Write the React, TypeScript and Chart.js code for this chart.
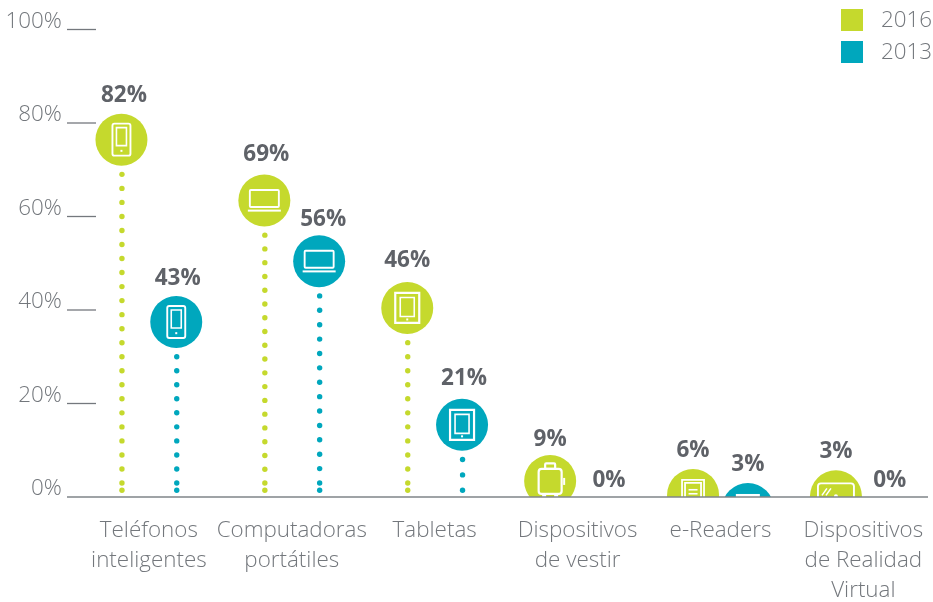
import React, { useEffect, useRef } from "react";
import { Chart, registerables } from "chart.js";

Chart.register(...registerables);

const categories: string[][] = [
  ["Teléfonos", "inteligentes"],
  ["Computadoras", "portátiles"],
  ["Tabletas"],
  ["Dispositivos", "de vestir"],
  ["e-Readers"],
  ["Dispositivos", "de Realidad", "Virtual"],
];
// Heights as drawn in the picture (the last 2016 marker sits above its printed 3%)
const values2016 = [82, 69, 46, 9, 6, 5.7];
const values2013 = [43, 56, 21, 0, 3, 0];
// Percentages as printed
const printed2016 = ["82%", "69%", "46%", "9%", "6%", "3%"];
const printed2013 = ["43%", "56%", "21%", "0%", "3%", "0%"];
const icons = ["phone", "laptop", "tablet", "case", "reader", "vr"];
const GREEN = "#c5d92d";
const BLUE = "#00a7bd";
const GREY = "#73777c";
const DARK = "#5f6268";
const FONT = "'Open Sans'";
// small per-label nudges of the value labels, as in the reference
const labelGaps = [
  [18, 20, 21, 15, 18, 19],
  [17, 16, 20, 16, 18, 16],
];
const labelShifts = [
  [2.5, 2, 0, 0, 0, 0],
  [1.5, 4, 2, 4, 0, -1],
];

function rr(ctx: CanvasRenderingContext2D, x: number, y: number, w: number, h: number, r = 1.5) {
  ctx.beginPath();
  ctx.roundRect(x, y, w, h, r);
  ctx.stroke();
}

function drawIcon(ctx: CanvasRenderingContext2D, kind: string, cx: number, cy: number, series: number) {
  ctx.save();
  ctx.translate(cx, cy);
  ctx.strokeStyle = "#fff";
  ctx.fillStyle = "#fff";
  ctx.lineWidth = 1.9;
  if (kind === "phone") {
    rr(ctx, -9, -16, 18, 32, 2);
    ctx.lineWidth = 1.6;
    rr(ctx, -5, -12, 10, 18, 0);
    ctx.fillRect(-1, 10.2, 2, 2);
  } else if (kind === "laptop") {
    rr(ctx, -14.5, -10.5, 29, 17, 1);
    ctx.fillRect(-16.5, 9.2, 33, 2);
  } else if (kind === "tablet") {
    ctx.lineWidth = 2.2;
    rr(ctx, -12, -15, 24, 30, 0);
    ctx.lineWidth = 1.6;
    rr(ctx, -7, -10.5, 14, 19, 0);
    ctx.fillRect(-1, 10.5, 2, 2);
  } else if (kind === "case") {
    ctx.lineWidth = 2.2;
    rr(ctx, -11.5, -12, 23, 25, 3);
    rr(ctx, -5, -17.5, 10, 5.5, 1);
    ctx.fillRect(13, -3, 2, 7);
    ctx.fillRect(-8, 13.5, 4, 3);
    ctx.fillRect(4, 13.5, 4, 3);
  } else if (kind === "reader") {
    if (series === 0) {
      ctx.lineWidth = 1.8;
      rr(ctx, -11, -15, 22, 28, 0);
      rr(ctx, -8, -12, 16, 24, 0);
      ctx.fillRect(-4.5, -6, 9, 1.6);
      ctx.fillRect(-4.5, -2, 9, 1.6);
      ctx.fillRect(-4.5, 2, 9, 1.6);
    } else {
      ctx.fillRect(-12, -15, 24, 3);
      ctx.fillRect(-9, -9, 18, 2);
    }
  } else if (kind === "vr") {
    rr(ctx, -18, -13, 36, 26, 3);
    ctx.lineWidth = 1.6;
    ctx.beginPath();
    ctx.moveTo(-14, -1);
    ctx.lineTo(-9, -8);
    ctx.moveTo(-10, -1);
    ctx.lineTo(-5, -8);
    ctx.stroke();
    ctx.beginPath();
    ctx.arc(0, 0, 2, 0, Math.PI * 2);
    ctx.fill();
  }
  ctx.restore();
}

const lollipops = {
  id: "lollipops",
  afterDatasetsDraw(chart: any) {
    const { ctx, chartArea, scales } = chart;
    const base = scales.y.getPixelForValue(0);
    const dot = (x: number, y: number) => {
      ctx.beginPath();
      ctx.arc(x, y, 2.7, 0, Math.PI * 2);
      ctx.fill();
    };
    ctx.save();
    // tick stubs
    ctx.strokeStyle = "#74787d";
    ctx.lineWidth = 1.3;
    scales.y.ticks.forEach((_: any, i: number) => {
      const y = scales.y.getPixelForTick(i);
      if (y < base - 1) {
        ctx.beginPath();
        ctx.moveTo(67, y);
        ctx.lineTo(96, y);
        ctx.stroke();
      }
    });
    chart.data.datasets.forEach((ds: any, d: number) => {
      const meta = chart.getDatasetMeta(d);
      ds.data.forEach((v: number, i: number) => {
        const el = meta.data[i];
        const x = el.x;
        const top = el.y;
        ctx.fillStyle = DARK;
        ctx.font = `700 22.5px ${FONT}`;
        ctx.textAlign = "center";
        ctx.textBaseline = "middle";
        ctx.fillText(ds.printed[i], x + labelShifts[d][i], top - labelGaps[d][i]);
        if (v === 0) return;
        const r = 26;
        const cy = top + r;
        ctx.fillStyle = ds.color;
        const start = cy + r + 8.7;
        const end = base - 6.7;
        if (start < end) {
          if (end - start < 35) {
            const n = Math.max(1, Math.round((end - start) / 15));
            for (let k = 0; k <= n; k++) dot(x + 0.5, start + ((end - start) * k) / n);
          } else {
            const last = base - 14;
            const n = Math.round((last - start) / 14);
            for (let k = 0; k <= n; k++) dot(x + 0.5, start + ((last - start) * k) / n);
            dot(x + 0.5, end);
          }
        }
        ctx.save();
        ctx.beginPath();
        ctx.rect(chartArea.left - 20, 0, chart.width, base);
        ctx.clip();
        ctx.fillStyle = ds.color;
        ctx.beginPath();
        ctx.arc(x, cy, r, 0, Math.PI * 2);
        ctx.fill();
        drawIcon(ctx, icons[i], x, cy, d);
        ctx.restore();
      });
    });
    // baseline
    ctx.strokeStyle = "#7f8489";
    ctx.lineWidth = 1.6;
    ctx.beginPath();
    ctx.moveTo(67, base);
    ctx.lineTo(928, base);
    ctx.stroke();
    // legend
    chart.data.datasets.forEach((ds: any, d: number) => {
      const y = 9 + d * 32;
      ctx.fillStyle = ds.color;
      ctx.fillRect(841, y, 22, 22);
      ctx.fillStyle = GREY;
      ctx.font = `300 22.4px ${FONT}`;
      ctx.textAlign = "left";
      ctx.textBaseline = "middle";
      ctx.fillText(ds.label, 881, y + 12);
    });
    ctx.restore();
  },
};

export default function App() {
  const ref = useRef<HTMLCanvasElement>(null);
  useEffect(() => {
    const chart = new Chart(ref.current!, {
      type: "bar",
      data: {
        labels: categories,
        datasets: [
          { label: "2016", data: values2016, printed: printed2016, backgroundColor: "transparent", color: GREEN } as any,
          { label: "2013", data: values2013, printed: printed2013, backgroundColor: "transparent", color: BLUE } as any,
        ],
      },
      plugins: [lollipops],
      options: {
        responsive: false,
        animation: false,
        layout: { padding: { top: 29.5, left: 0, right: 25.2, bottom: 0 } },
        plugins: { legend: { display: false }, tooltip: { enabled: false } },
        datasets: { bar: { categoryPercentage: 0.767, barPercentage: 1 } },
        scales: {
          x: {
            grid: { display: false },
            border: { display: false },
            afterFit: (s: any) => { s.height = 105; },
            ticks: {
              color: GREY,
              font: { family: FONT, size: 22.4, weight: "300", lineHeight: 30 / 22.4 },
              padding: 11,
              maxRotation: 0,
              autoSkip: false,
            },
          },
          y: {
            min: 0,
            max: 100,
            grid: { display: false, drawTicks: false },
            border: { display: false },
            afterFit: (s: any) => { s.width = 77.4; },
            ticks: {
              stepSize: 20,
              color: GREY,
              font: { family: FONT, size: 22.4, weight: "300" },
              padding: 15.5,
              labelOffset: -8,
              callback: (v: any) => `${v}%`,
            },
          },
        },
      } as any,
    });
    return () => chart.destroy();
  }, []);
  return (
    <div style={{ position: "fixed", left: 0, top: 0, width: 933, height: 602, background: "#fff", overflow: "hidden" }}>
      <canvas ref={ref} width={960} height={602} style={{ display: "block" }} />
    </div>
  );
}
